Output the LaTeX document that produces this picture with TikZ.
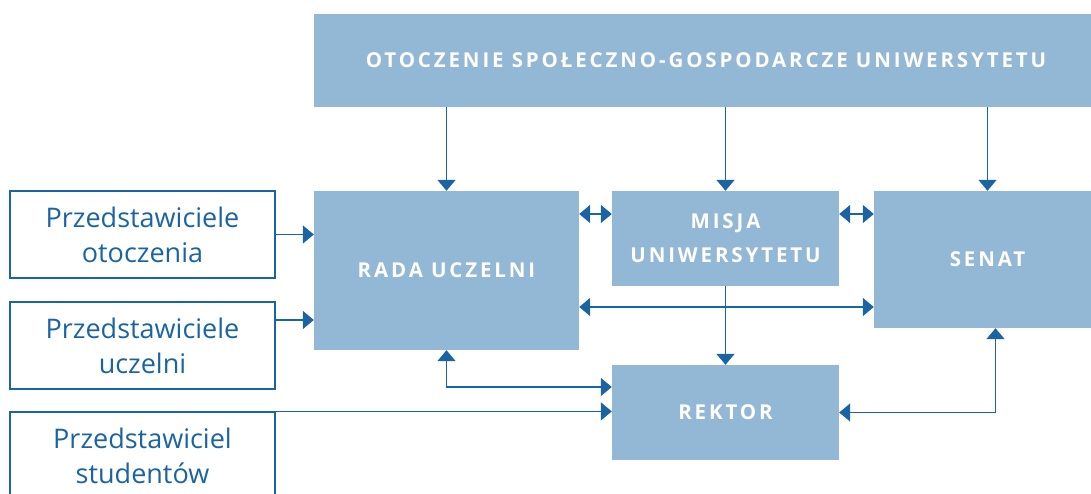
\documentclass[tikz,border=0pt]{standalone}
\usepackage{fontspec}
\setmainfont{Open Sans}
\usetikzlibrary{arrows.meta}
\definecolor{boxblue}{HTML}{92B8D5}
\definecolor{linkblue}{HTML}{1A64A4}

\tikzset{
  organ/.style={fill=boxblue, text=white, align=center, inner sep=0pt,
    font=\fontsize{20.5}{34}\selectfont\bfseries\addfontfeatures{LetterSpace=14}},
  member/.style={draw=linkblue, line width=1.2pt, text=linkblue, align=center,
    minimum width=265pt, minimum height=87pt, inner sep=0pt,
    font=\fontsize{27}{35}\selectfont},
  link/.style={linkblue, line width=1.6pt},
}

\begin{document}
\begin{tikzpicture}[x=1pt,y=-1pt,>={Triangle[length=11pt,width=18pt]}]
\useasboundingbox (0,0) rectangle (1091,494);
\node[organ, minimum width=784pt, minimum height=93pt] (env) at (706,60.5) {OTOCZENIE SPOŁECZNO-GOSPODARCZE UNIWERSYTETU};
\node[organ, minimum width=265pt, minimum height=159pt] (rada) at (446.5,270.5) {RADA UCZELNI};
\node[organ, minimum width=227pt, minimum height=95pt] (misja) at (725.5,238.5) {MISJA\\UNIWERSYTETU};
\node[organ, minimum width=227pt, minimum height=137pt] (senat) at (987.5,259.5) {SENAT};
\node[organ, minimum width=227pt, minimum height=95pt] (rektor) at (725.5,412.5) {REKTOR};
\node[member] (otocz) at (142.5,234.5) {Przedstawiciele\\otoczenia};
\node[member] (uczel) at (142.5,345.5) {Przedstawiciele\\uczelni};
\node[member] (stud) at (142.5,455.5) {Przedstawiciel\\studentów};
% environment feeds the three bodies
\draw[link,->] (env.south -| rada) -- (rada.north);
\draw[link,->] (env.south -| misja) -- (misja.north);
\draw[link,->] (env.south -| senat) -- (senat.north);
% representatives
\draw[link,->] (otocz.east) -- (otocz.east -| rada.west);
\draw[link,->] ([yshift=25.5pt]uczel.east) -- ([yshift=25.5pt]uczel.east -| rada.west);
\draw[link,->] (stud.north east) -- (stud.north east -| rektor.west);
% mutual links
\draw[link,<->] ([yshift=24.5pt]misja.west) -- ([yshift=24.5pt]misja.west -| rada.east);
\draw[link,<->] ([yshift=24.5pt]misja.east) -- ([yshift=24.5pt]misja.east -| senat.west);
\draw[link,<->] ([yshift=-36.5pt]rada.east) -- ([yshift=-36.5pt]rada.east -| senat.west);
\draw[link,->] (misja.south) -- (rektor.north);
\draw[link,<->] (rada.south) |- ([yshift=25.5pt]rektor.west);
\draw[link,<->] (rektor.east) -| ([xshift=8pt]senat.south);
\end{tikzpicture}
\end{document}
